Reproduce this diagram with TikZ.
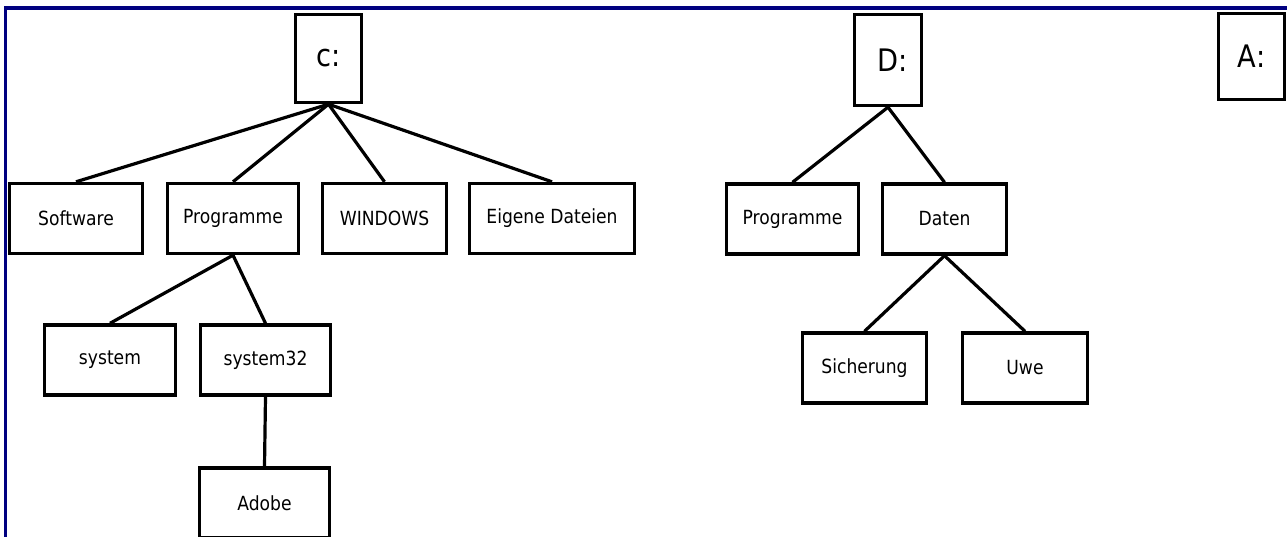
\documentclass[tikz,border=0pt]{standalone}
\usepackage{fontspec}
\setmainfont{DejaVu Sans}[FakeStretch=0.88]
\usepackage{tikz}
\usetikzlibrary{positioning}
\definecolor{framenavy}{RGB}{0,0,128}

\begin{document}
\begin{tikzpicture}[x=1pt,y=-1pt,
  folder/.style={draw,line width=3.4pt,inner sep=0pt,minimum height=70pt,font=\fontsize{19.5}{22}\selectfont},
  drive/.style={draw,line width=3.4pt,inner sep=0pt,font=\fontsize{31}{36}\selectfont},
  link/.style={line width=3.2pt}]
\useasboundingbox (0,0) rectangle (1287,536);
\draw[framenavy,line width=3.6pt] (5.5,540)--(5.5,8)--(1290,8);
% Laufwerk C:
\node[drive,minimum width=66pt,minimum height=88pt] (cdrive) at (328.5,58.5) {c:};
\node[folder,minimum width=133pt] (software) at (76,218.5) {Software};
\node[folder,minimum width=131pt] (cprog) at (233,218.5) {Programme};
\node[folder,minimum width=124pt] (windows) at (384.5,218.5) {WINDOWS};
\node[folder,minimum width=165pt] (eigene) at (552,218.5) {Eigene Dateien};
\node[folder,minimum width=131pt] (system) at (110,360) {system};
\node[folder,minimum width=130pt] (systemtt) at (265.5,360) {system32};
\node[folder,minimum width=130pt] (adobe) at (264.5,503) {Adobe};
\foreach \kid in {software,cprog,windows,eigene}
  \draw[link] (cdrive.south)--(\kid.north);
\draw[link] (cprog.south)--(system.north);
\draw[link] (cprog.south)--(systemtt.north);
\draw[link] (systemtt.south)--(adobe.north);
% Laufwerk D:
\node[drive,minimum width=67pt,minimum height=91pt] (ddrive) at (888,60) {\hspace*{10pt}D:};
\node[folder,minimum width=132pt] (dprog) at (792.5,219) {Programme};
\node[folder,minimum width=124pt] (daten) at (944.5,219) {Daten};
\node[folder,minimum width=124pt] (sicherung) at (864.5,368) {Sicherung};
\node[folder,minimum width=125pt] (uwe) at (1025,368) {Uwe};
\draw[link] (ddrive.south)--(dprog.north);
\draw[link] (ddrive.south)--(daten.north);
\draw[link] (daten.south)--(sicherung.north);
\draw[link] (daten.south)--(uwe.north);
% Laufwerk A:
\node[drive,minimum width=66pt,minimum height=86pt] (adrive) at (1251.5,56.5) {A:};
\end{tikzpicture}
\end{document}
